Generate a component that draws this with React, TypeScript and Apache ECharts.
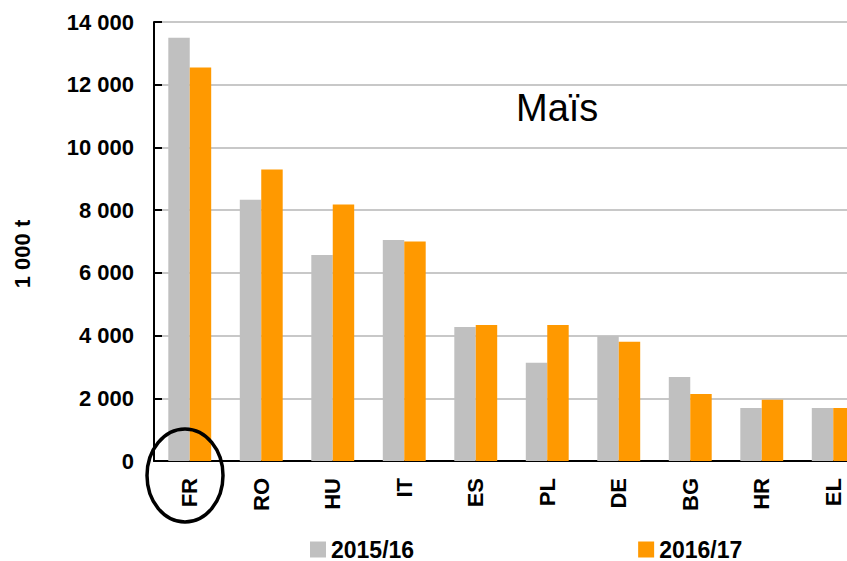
import React, { useEffect, useRef } from "react";
import * as echarts from "echarts";

const categories = ["FR", "RO", "HU", "IT", "ES", "PL", "DE", "BG", "HR", "EL"];
const series2015 = [13500, 8330, 6570, 7050, 4270, 3130, 3990, 2680, 1690, 1690];
const series2016 = [12550, 9300, 8180, 7000, 4340, 4340, 3800, 2140, 1950, 1690];
const seriesNames = ["2015/16", "2016/17"];
const yTicks = { min: 0, max: 14000, interval: 2000 };
const chartTitle = "Maïs";
const yAxisTitle = "1 000 t";

const FONT = "'Liberation Sans', Arial, Helvetica, sans-serif";

export default function App() {
  const ref = useRef<HTMLDivElement>(null);
  useEffect(() => {
    if (!ref.current) return;
    const chart = echarts.init(ref.current, undefined, { renderer: "svg" });
    chart.setOption({
      animation: false,
      backgroundColor: "#ffffff",
      textStyle: { fontFamily: FONT },
      grid: {
        left: 154,
        top: 22,
        bottom: 100,
        width: 715,
        containLabel: false,
        outerBoundsMode: "none",
      },
      legend: {
        left: 310,
        top: 538,
        padding: 0,
        itemWidth: 16,
        itemHeight: 16,
        itemGap: 224,
        icon: "rect",
        textStyle: { fontSize: 23, fontWeight: "bold", color: "#000", fontFamily: FONT },
        data: seriesNames,
      },
      xAxis: {
        type: "category",
        data: categories,
        axisLine: { lineStyle: { color: "#000", width: 2 } },
        axisTick: { show: false },
        axisLabel: {
          rotate: 90,
          margin: 17,
          fontSize: 22,
          fontWeight: "bold",
          color: "#000",
          fontFamily: FONT,
        },
      },
      yAxis: {
        type: "value",
        min: yTicks.min,
        max: yTicks.max,
        interval: yTicks.interval,
        name: yAxisTitle,
        nameLocation: "middle",
        nameRotate: 90,
        nameGap: 121,
        nameTextStyle: {
          fontSize: 22,
          fontWeight: "bold",
          color: "#000",
          fontFamily: FONT,
          padding: [0, 25, 0, 0],
        },
        axisLine: { show: true, lineStyle: { color: "#000", width: 2 } },
        axisTick: { show: true, inside: true, length: 8, lineStyle: { color: "#000", width: 2 } },
        splitLine: { lineStyle: { color: "#c8c8c8", width: 2 } },
        axisLabel: {
          margin: 20,
          fontSize: 22,
          fontWeight: "bold",
          color: "#000",
          fontFamily: FONT,
          formatter: (v: number) => String(v).replace(/\B(?=(\d{3})+(?!\d))/g, " "),
        },
      },
      series: [
        {
          name: seriesNames[0],
          type: "bar",
          data: series2015,
          itemStyle: { color: "#c0c0c0" },
          barGap: "0%",
          barCategoryGap: "40%",
        },
        {
          name: seriesNames[1],
          type: "bar",
          data: series2016,
          itemStyle: { color: "#ff9900" },
          barGap: "0%",
          barCategoryGap: "40%",
        },
      ],
      graphic: [
        {
          type: "text",
          left: 516,
          top: 89,
          style: { text: chartTitle, fontSize: 38, fill: "#000", fontFamily: FONT },
        },
        {
          type: "ellipse",
          z: 100,
          shape: { cx: 185, cy: 475.5, rx: 38, ry: 46.5 },
          style: { fill: "none", stroke: "#000", lineWidth: 3.5 },
        },
      ],
    });
    return () => chart.dispose();
  }, []);
  return (
    <div
      ref={ref}
      style={{ position: "absolute", left: 0, top: 0, width: 847, height: 561 }}
    />
  );
}
